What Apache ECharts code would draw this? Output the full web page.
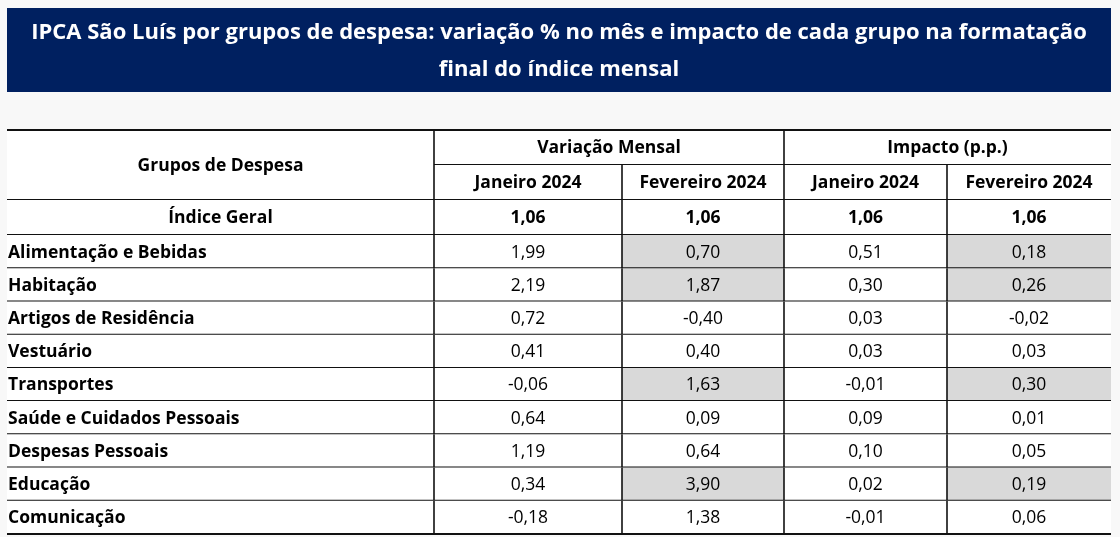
<!DOCTYPE html>
<html>
<head>
<meta charset="utf-8">
<script src="https://cdn.jsdelivr.net/npm/echarts@6/dist/echarts.min.js"></script>
<style>
  html, body { margin: 0; padding: 0; background: #f8f8f8; }
  #table_chart { width: 1120px; height: 537px; }
</style>
</head>
<body>
<div id="table_chart"></div>
<script>
// dados da tabela
var titleLines = ['IPCA São Luís por grupos de despesa: variação % no mês e impacto de cada grupo na formatação', 'final do índice mensal'];
var groupHeader = 'Grupos de Despesa';
var blockHeaders = ['Variação Mensal', 'Impacto (p.p.)'];
var monthHeaders = ['Janeiro 2024', 'Fevereiro 2024'];
var totalLabel = 'Índice Geral';
var groups = ['Alimentação e Bebidas', 'Habitação', 'Artigos de Residência', 'Vestuário', 'Transportes',
	'Saúde e Cuidados Pessoais', 'Despesas Pessoais', 'Educação', 'Comunicação'];
var totalVar = [1.06, 1.06];
var totalImp = [1.06, 1.06];
var varJan = [1.99, 2.19, 0.72, 0.41, -0.06, 0.64, 1.19, 0.34, -0.18];
var varFev = [0.70, 1.87, -0.40, 0.40, 1.63, 0.09, 0.64, 3.90, 1.38];
var impJan = [0.51, 0.30, 0.03, 0.03, -0.01, 0.09, 0.10, 0.02, -0.01];
var impFev = [0.18, 0.26, -0.02, 0.03, 0.30, 0.01, 0.05, 0.19, 0.06];
// grupos destacados em fevereiro
var highlighted = ['Alimentação e Bebidas', 'Habitação', 'Transportes', 'Educação'];

// larguras das colunas (layout)
var colEdges = [0, 427, 615, 777, 940, 1104];
var FONT = '"Open Sans"';

function fmt(v) {
	return v.toFixed(2).replace('.', ',');
}

var headKeys = ['h1', 'h2', totalLabel];
var headCells = [];
var bodyCells = [];
function addCell(list, col, row, cs, rs, text, opt) {
	opt = opt || {};
	list.push({
		value: [col, row, cs, rs],
		text: text,
		bold: !!opt.bold,
		align: opt.align || 'center',
		shade: !!opt.shade,
		top: !!opt.top
	});
}
addCell(headCells, 0, 0, 1, 2, groupHeader, {bold: true, top: true});
addCell(headCells, 1, 0, 2, 1, blockHeaders[0], {bold: true, top: true});
addCell(headCells, 3, 0, 2, 1, blockHeaders[1], {bold: true, top: true});
for (var m = 0; m < 4; m++) {
	addCell(headCells, m + 1, 1, 1, 1, monthHeaders[m % 2], {bold: true});
}
addCell(headCells, 0, 2, 1, 1, totalLabel, {bold: true});
addCell(headCells, 1, 2, 1, 1, fmt(totalVar[0]), {bold: true});
addCell(headCells, 2, 2, 1, 1, fmt(totalVar[1]), {bold: true});
addCell(headCells, 3, 2, 1, 1, fmt(totalImp[0]), {bold: true});
addCell(headCells, 4, 2, 1, 1, fmt(totalImp[1]), {bold: true});
for (var i = 0; i < groups.length; i++) {
	var hl = highlighted.indexOf(groups[i]) >= 0;
	addCell(bodyCells, 0, i, 1, 1, groups[i], {bold: true, align: 'left'});
	addCell(bodyCells, 1, i, 1, 1, fmt(varJan[i]));
	addCell(bodyCells, 2, i, 1, 1, fmt(varFev[i]), {shade: hl});
	addCell(bodyCells, 3, i, 1, 1, fmt(impJan[i]));
	addCell(bodyCells, 4, i, 1, 1, fmt(impFev[i]), {shade: hl});
}

function cellRenderer(list) {
	return function (params, api) {
		var c = list[params.dataIndex];
		var col = c.value[0], row = c.value[1], cs = c.value[2], rs = c.value[3];
		var bandH = api.size([0, 1])[1];
		var x0 = api.coord([colEdges[col], row])[0];
		var x1 = api.coord([colEdges[col + cs], row])[0];
		var yTop = api.coord([0, row])[1] - bandH / 2;
		var yBot = yTop + bandH * rs;
		var hLine = {stroke: '#111', lineWidth: 2};
		var vLine = {stroke: '#111', lineWidth: 1.6};
		var children = [{
			type: 'rect',
			shape: {x: x0, y: yTop, width: x1 - x0, height: yBot - yTop},
			style: {fill: c.shade ? '#d9d9d9' : '#ffffff'}
		}, {
			type: 'line',
			shape: {x1: x0, y1: yBot, x2: x1, y2: yBot},
			style: hLine
		}];
		if (c.top) {
			children.push({type: 'line', shape: {x1: x0, y1: yTop, x2: x1, y2: yTop}, style: hLine});
		}
		if (col > 0) {
			children.push({type: 'line', shape: {x1: x0, y1: yTop, x2: x0, y2: yBot}, style: vLine});
		}
		children.push({
			type: 'text',
			x: c.align === 'left' ? x0 + 1 : (x0 + x1) / 2,
			y: (yTop + yBot) / 2 + 1,
			style: {
				text: c.text,
				fill: '#000',
				font: (c.bold ? 'bold ' : '') + '17.5px ' + FONT,
				align: c.align,
				verticalAlign: 'middle'
			}
		});
		return {type: 'group', children: children};
	};
}

var table_chart = echarts.init(document.getElementById('table_chart'));
var xMax = colEdges[colEdges.length - 1];
table_chart.setOption({
	backgroundColor: '#f8f8f8',
	animation: false,
	graphic: [{
		type: 'rect',
		left: 7, top: 8,
		shape: {width: 1104, height: 84},
		style: {fill: '#002060'}
	}, {
		type: 'text',
		x: 559, y: 51,
		style: {
			text: titleLines.join('\n'),
			fill: '#fff',
			font: 'bold 22px ' + FONT,
			lineHeight: 37,
			align: 'center',
			verticalAlign: 'middle'
		}
	}],
	grid: [
		{left: 7, top: 130, width: 1104, height: 105},
		{left: 7, top: 235, width: 1104, height: 299}
	],
	xAxis: [
		{type: 'value', gridIndex: 0, min: 0, max: xMax, show: false},
		{type: 'value', gridIndex: 1, min: 0, max: xMax, show: false}
	],
	yAxis: [
		{type: 'category', gridIndex: 0, data: headKeys, inverse: true, show: false},
		{type: 'category', gridIndex: 1, data: groups, inverse: true, show: false}
	],
	series: [{
		type: 'custom',
		xAxisIndex: 0, yAxisIndex: 0,
		renderItem: cellRenderer(headCells),
		encode: {x: 0, y: 1},
		data: headCells.map(function (c) { return c.value; })
	}, {
		type: 'custom',
		xAxisIndex: 1, yAxisIndex: 1,
		renderItem: cellRenderer(bodyCells),
		encode: {x: 0, y: 1},
		data: bodyCells.map(function (c) { return c.value; })
	}]
});
</script>
</body>
</html>
